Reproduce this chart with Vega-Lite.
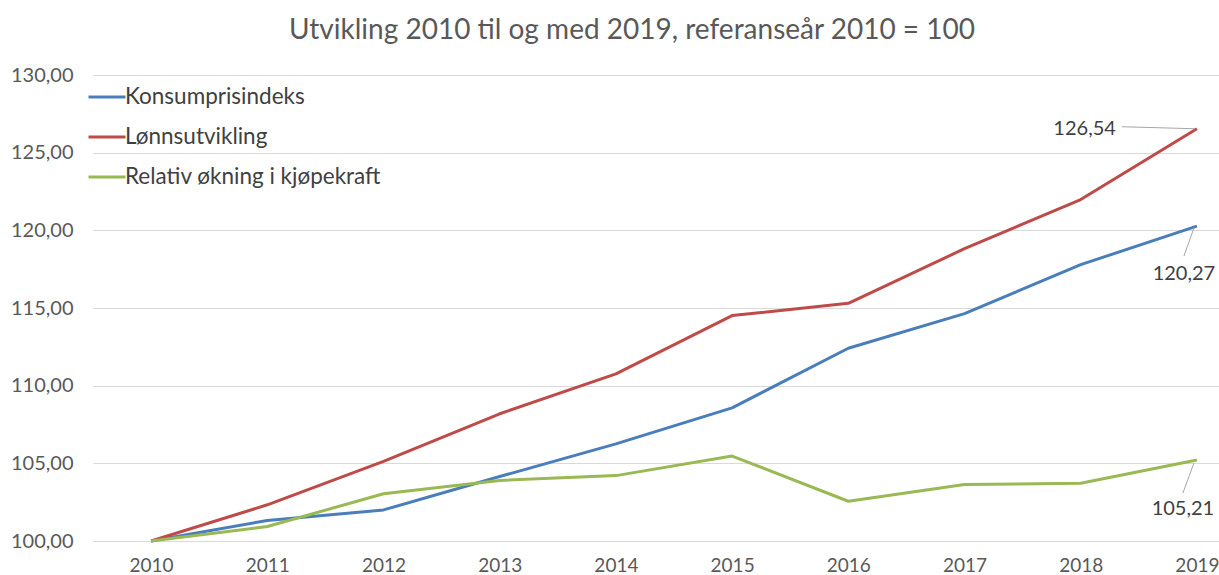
{
  "$schema": "https://vega.github.io/schema/vega-lite/v6.json",
  "autosize": {"type": "none"},
  "padding": {"left": 93, "top": 75, "right": 0, "bottom": 34},
  "width": 1126,
  "height": 466,
  "background": "white",
  "config": {
    "locale": {"number": {"decimal": ",", "thousands": " ", "grouping": [3], "currency": ["", " kr"]}},
    "font": "Lato",
    "view": {"stroke": null}
  },
  "title": {
    "text": "Utvikling 2010 til og med 2019, referanseår 2010 = 100",
    "fontSize": 28,
    "fontWeight": "normal",
    "color": "#595959",
    "font": "Lato",
    "anchor": "middle",
    "dx": -24,
    "offset": 20
  },
  "data": {
    "values": [
      {"year": 2010, "series": "Konsumprisindeks", "value": 100.0},
      {"year": 2011, "series": "Konsumprisindeks", "value": 101.32},
      {"year": 2012, "series": "Konsumprisindeks", "value": 102.0},
      {"year": 2013, "series": "Konsumprisindeks", "value": 104.15},
      {"year": 2014, "series": "Konsumprisindeks", "value": 106.25},
      {"year": 2015, "series": "Konsumprisindeks", "value": 108.57},
      {"year": 2016, "series": "Konsumprisindeks", "value": 112.41},
      {"year": 2017, "series": "Konsumprisindeks", "value": 114.64},
      {"year": 2018, "series": "Konsumprisindeks", "value": 117.79},
      {"year": 2019, "series": "Konsumprisindeks", "value": 120.27},
      {"year": 2010, "series": "Lønnsutvikling", "value": 100.0},
      {"year": 2011, "series": "Lønnsutvikling", "value": 102.33},
      {"year": 2012, "series": "Lønnsutvikling", "value": 105.13},
      {"year": 2013, "series": "Lønnsutvikling", "value": 108.19},
      {"year": 2014, "series": "Lønnsutvikling", "value": 110.76},
      {"year": 2015, "series": "Lønnsutvikling", "value": 114.51},
      {"year": 2016, "series": "Lønnsutvikling", "value": 115.3},
      {"year": 2017, "series": "Lønnsutvikling", "value": 118.82},
      {"year": 2018, "series": "Lønnsutvikling", "value": 121.98},
      {"year": 2019, "series": "Lønnsutvikling", "value": 126.54},
      {"year": 2010, "series": "Relativ økning i kjøpekraft", "value": 100.0},
      {"year": 2011, "series": "Relativ økning i kjøpekraft", "value": 100.93},
      {"year": 2012, "series": "Relativ økning i kjøpekraft", "value": 103.04},
      {"year": 2013, "series": "Relativ økning i kjøpekraft", "value": 103.9},
      {"year": 2014, "series": "Relativ økning i kjøpekraft", "value": 104.21},
      {"year": 2015, "series": "Relativ økning i kjøpekraft", "value": 105.47},
      {"year": 2016, "series": "Relativ økning i kjøpekraft", "value": 102.56},
      {"year": 2017, "series": "Relativ økning i kjøpekraft", "value": 103.64},
      {"year": 2018, "series": "Relativ økning i kjøpekraft", "value": 103.72},
      {"year": 2019, "series": "Relativ økning i kjøpekraft", "value": 105.21}
    ]
  },
  "encoding": {
    "x": {
      "field": "year",
      "type": "quantitative",
      "scale": {"domain": [2009.5, 2019.19], "nice": false, "zero": false},
      "axis": {
        "title": null,
        "values": [2010, 2011, 2012, 2013, 2014, 2015, 2016, 2017, 2018, 2019],
        "format": "d",
        "grid": false,
        "ticks": false,
        "domain": false,
        "labelFontSize": 19,
        "labelColor": "#595959",
        "labelPadding": 15,
        "labelFont": "Lato"
      }
    },
    "y": {
      "field": "value",
      "type": "quantitative",
      "scale": {"domain": [100, 130], "nice": false, "zero": false},
      "axis": {
        "title": null,
        "values": [100, 105, 110, 115, 120, 125, 130],
        "format": ".2f",
        "grid": true,
        "gridColor": "#d9d9d9",
        "gridWidth": 1,
        "ticks": false,
        "domain": false,
        "labelFontSize": 20,
        "labelColor": "#595959",
        "labelPadding": 20,
        "labelFont": "Lato"
      }
    }
  },
  "layer": [
    {
      "mark": {"type": "line", "strokeWidth": 3, "strokeJoin": "round"},
      "encoding": {
        "color": {
          "field": "series",
          "type": "nominal",
          "scale": {
            "domain": ["Konsumprisindeks", "Lønnsutvikling", "Relativ økning i kjøpekraft"],
            "range": ["#4a7ebb", "#be4b48", "#98b954"]
          },
          "legend": {
            "title": null,
            "orient": "none",
            "legendX": -6,
            "legendY": 2,
            "symbolType": "stroke",
            "symbolSize": 1369,
            "symbolStrokeWidth": 3,
            "labelFontSize": 22.5,
            "labelColor": "#404040",
            "labelFont": "Lato",
            "labelOffset": -2,
            "labelLimit": 400,
            "rowPadding": 8
          }
        }
      }
    },
    {
      "transform": [{"filter": "datum.year == 2019 && datum.series == 'Lønnsutvikling'"}],
      "mark": {"type": "rule", "color": "#a6a6a6", "strokeWidth": 1, "xOffset": -2, "x2Offset": -75, "y2Offset": -2},
      "encoding": {"x2": {"field": "year"}, "y2": {"field": "value"}}
    },
    {
      "transform": [{"filter": "datum.year == 2019 && datum.series == 'Konsumprisindeks'"}],
      "mark": {"type": "rule", "color": "#a6a6a6", "strokeWidth": 1, "xOffset": -3, "yOffset": 2, "x2Offset": -13, "y2Offset": 30},
      "encoding": {"x2": {"field": "year"}, "y2": {"field": "value"}}
    },
    {
      "transform": [{"filter": "datum.year == 2019 && datum.series == 'Relativ økning i kjøpekraft'"}],
      "mark": {"type": "rule", "color": "#a6a6a6", "strokeWidth": 1, "xOffset": -3, "yOffset": 3, "x2Offset": -14, "y2Offset": 33},
      "encoding": {"x2": {"field": "year"}, "y2": {"field": "value"}}
    },
    {
      "transform": [{"filter": "datum.year == 2019 && datum.series == 'Lønnsutvikling'"}],
      "mark": {"type": "text", "align": "right", "baseline": "middle", "dx": -81, "dy": 0, "fontSize": 20, "color": "#404040", "font": "Lato"},
      "encoding": {"text": {"field": "value", "type": "quantitative", "format": ".2f"}}
    },
    {
      "transform": [{"filter": "datum.year == 2019 && datum.series == 'Konsumprisindeks'"}],
      "mark": {"type": "text", "align": "center", "baseline": "middle", "dx": -13, "dy": 48, "fontSize": 20, "color": "#404040", "font": "Lato"},
      "encoding": {"text": {"field": "value", "type": "quantitative", "format": ".2f"}}
    },
    {
      "transform": [{"filter": "datum.year == 2019 && datum.series == 'Relativ økning i kjøpekraft'"}],
      "mark": {"type": "text", "align": "center", "baseline": "middle", "dx": -14, "dy": 49, "fontSize": 20, "color": "#404040", "font": "Lato"},
      "encoding": {"text": {"field": "value", "type": "quantitative", "format": ".2f"}}
    }
  ]
}
